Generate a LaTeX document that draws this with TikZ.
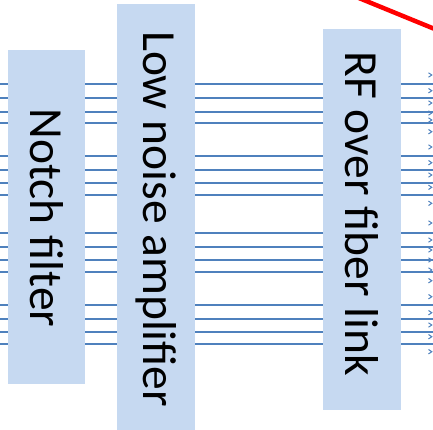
\documentclass[tikz,border=0pt]{standalone}
\usepackage{fontspec}
\setmainfont{Carlito}
\definecolor{boxfill}{HTML}{C6D9F1}
\definecolor{wire}{HTML}{4F81BD}
\begin{document}
\begin{tikzpicture}[x=1pt,y=-1pt,
  block/.style={fill=boxfill, draw=none, inner sep=0pt, anchor=north west},
  label/.style={rotate=-90, font=\fontsize{47.5}{50}\selectfont},
  wireline/.style={wire, line width=1.9pt},
  tick/.style={wire, line width=1pt}]
\useasboundingbox (0,0) rectangle (433,429);
% signal lines, drawn first so the blocks sit on top of them
\foreach \y [count=\i] in {84.3,98.3,111.7,123,156.3,169.7,183,194.7,233,246.7,259.7,271.7,305.3,319,332.3,344.3}{
  \coordinate (in\i) at (-2,\y);
  \coordinate (out\i) at (435,\y);
  \draw[wireline] (in\i) -- (out\i);
}
% processing blocks
\node[block, minimum width=77.7pt, minimum height=333.7pt] (notch) at (7.3,50) {};
\node[label] at ([yshift=-1pt]notch.center) {Notch filter};
\node[block, minimum width=77.7pt, minimum height=426pt] (lna) at (117,4) {};
\node[label] at ([yshift=-2pt]lna.center) {Low noise amplifier};
\node[block, minimum width=78pt, minimum height=380.7pt] (rof) at (323,29) {};
\node[label] at ([yshift=6pt]rof.center) {RF over fiber link};
% edge of the next column of labels
\foreach \y in {75,90.7,103,113,120,131.7,147,162.7,175,187.3,203.3,223,240,250,260,270,280.7,296.7,312.7,325,336.7,351.7}{
  \draw[tick] (428.5,\y-2.2) -- (431.8,\y) -- (428.5,\y+2.2);
}
% red marker line
\coordinate (r1) at (354,-4);
\coordinate (r2) at (442,32);
\draw[red, line width=4.5pt] (r1) -- (r2);
\end{tikzpicture}
\end{document}
